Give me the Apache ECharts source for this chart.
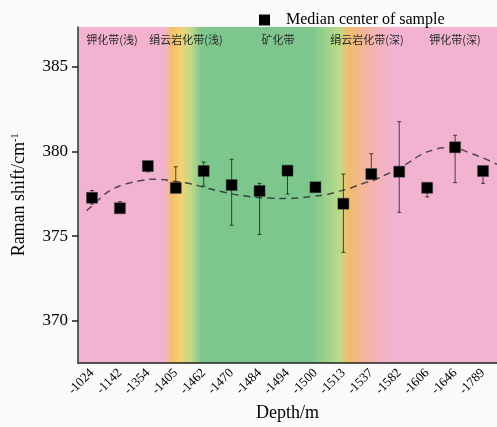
<!DOCTYPE html>
<html>
<head>
<meta charset="utf-8">
<script src="https://cdn.jsdelivr.net/npm/echarts@6/dist/echarts.min.js"></script>
<style>
  html, body { margin: 0; padding: 0; background: #fafafa; }
  #chart { width: 497px; height: 427px; }
</style>
</head>
<body>
<div id="chart"></div>
<script>
const depths = ['-1024', '-1142', '-1354', '-1405', '-1462', '-1470', '-1484', '-1494',
  '-1500', '-1513', '-1537', '-1582', '-1606', '-1646', '-1789'];
const median = [377.27, 376.65, 379.14, 377.85, 378.85, 378.02, 377.67, 378.87,
  377.89, 376.92, 378.67, 378.81, 377.86, 380.25, 378.85];
const errLow = [376.9, 376.5, 378.8, 377.6, 377.96, 375.65, 375.11, 377.49,
  377.8, 374.05, 378.4, 376.41, 377.32, 378.16, 378.12];
const errHigh = [377.7, 377.04, 379.3, 379.1, 379.38, 379.54, 378.12, 379.0,
  377.95, 378.67, 379.87, 381.76, 378.0, 380.96, 379.0];
// fitted trend (x in category index units)
const curveX = [-0.19, 0.11, 0.40, 0.64, 1.05, 1.35, 1.82, 2.12, 2.47, 2.94, 3.48, 4.01,
  4.61, 5.50, 6.49, 7.02, 7.44, 7.91, 8.37, 8.79, 9.27, 9.68, 10.10, 10.57, 11.0,
  11.39, 11.77, 12.23, 12.70, 13.12, 13.51, 14.0, 14.5];
const curveY = [376.50, 376.95, 377.40, 377.69, 378.00, 378.14, 378.30, 378.37, 378.35,
  378.25, 378.11, 377.89, 377.64, 377.37, 377.24, 377.23, 377.27, 377.36, 377.45, 377.63,
  377.85, 378.10, 378.32, 378.67, 379.0, 379.4, 379.8, 380.1, 380.22, 380.15, 379.93,
  379.62, 379.25];
const yTicks = [370, 375, 380, 385];
const zoneNames = ['钾化带(浅)', '绢云岩化带(浅)', '矿化带', '绢云岩化带(深)', '钾化带(深)'];

const serif = "'Liberation Serif', 'Times New Roman', serif";
const chart = echarts.init(document.getElementById('chart'));

const bg = new echarts.graphic.LinearGradient(0, 0, 1, 0, [
  { offset: 0, color: '#f2b3d1' },
  { offset: 0.205, color: '#f2b3d1' },
  { offset: 0.225, color: '#f5bf6a' },
  { offset: 0.245, color: '#f3d273' },
  { offset: 0.268, color: '#c3da88' },
  { offset: 0.295, color: '#7dc78e' },
  { offset: 0.56, color: '#7dc78e' },
  { offset: 0.625, color: '#bddb88' },
  { offset: 0.645, color: '#f2bc6c' },
  { offset: 0.70, color: '#f4b3ad' },
  { offset: 0.75, color: '#f2b3d1' },
  { offset: 1, color: '#f2b3d1' }
]);

const zoneX = [112, 186, 278, 367, 455];

chart.setOption({
  backgroundColor: '#fafafa',
  animation: false,
  legend: {
    data: ['Median center of sample'],
    left: 254,
    top: 7,
    itemWidth: 11,
    itemHeight: 11,
    icon: 'rect',
    itemStyle: { color: '#000', borderWidth: 0, opacity: 1 },
    textStyle: { fontFamily: serif, fontSize: 16, color: '#000', padding: [0, 0, 0, 11] }
  },
  grid: {
    left: 78, top: 27, width: 423, height: 336,
    show: true, borderWidth: 0, backgroundColor: bg
  },
  xAxis: [{
    type: 'category',
    data: depths,
    name: 'Depth/m',
    nameLocation: 'middle',
    nameGap: 33,
    nameTextStyle: { fontFamily: serif, fontSize: 18, color: '#000' },
    axisLine: { onZero: false, lineStyle: { color: '#222', width: 1.5 } },
    axisTick: { alignWithLabel: true, length: 5, lineStyle: { color: '#222', width: 1.2 } },
    axisLabel: { rotate: 45, fontFamily: serif, fontSize: 13, color: '#000', margin: 8 }
  }, {
    type: 'value', min: -0.5, max: 14.5, show: false
  }],
  yAxis: {
    type: 'value',
    min: 367.52,
    max: 387.35,
    name: '{a|Raman shift/cm}{b|-1}',
    nameLocation: 'middle',
    nameGap: 50,
    nameTextStyle: {
      fontFamily: serif, fontSize: 18, color: '#000',
      rich: {
        a: { fontFamily: serif, fontSize: 18, color: '#000' },
        b: { fontFamily: serif, fontSize: 10, color: '#000', verticalAlign: 'top', padding: [0, 0, 8, 0] }
      }
    },
    splitLine: { show: false },
    axisLine: { show: true, onZero: false, lineStyle: { color: '#333', width: 1.5 } },
    axisTick: { show: true, length: 6, customValues: yTicks, lineStyle: { color: '#222', width: 1.5 } },
    axisLabel: { fontFamily: serif, fontSize: 17, color: '#000', margin: 10, customValues: yTicks }
  },
  graphic: zoneNames.map((t, i) => ({
    type: 'text',
    x: zoneX[i],
    y: 40,
    style: {
      text: t, fontFamily: "'Noto Sans CJK SC', sans-serif", fontSize: 11,
      fill: '#2a2a2a', align: 'center', verticalAlign: 'middle'
    }
  })),
  series: [{
    name: 'trend',
    type: 'line',
    xAxisIndex: 1,
    data: curveX.map((x, i) => [x, curveY[i]]),
    smooth: true,
    symbol: 'none',
    lineStyle: { color: 'rgba(20,20,30,0.7)', width: 1.5, type: [7, 5] },
    z: 2
  }, {
    name: 'error',
    type: 'custom',
    data: depths.map((d, i) => [i, errLow[i], errHigh[i]]),
    renderItem: (params, api) => {
      const lo = api.coord([api.value(0), api.value(1)]);
      const hi = api.coord([api.value(0), api.value(2)]);
      const style = { stroke: 'rgba(20,20,20,0.75)', lineWidth: 1 };
      return {
        type: 'group',
        children: [
          { type: 'line', shape: { x1: lo[0], y1: lo[1], x2: hi[0], y2: hi[1] }, style },
          { type: 'line', shape: { x1: lo[0] - 2, y1: lo[1], x2: lo[0] + 2, y2: lo[1] }, style },
          { type: 'line', shape: { x1: hi[0] - 2, y1: hi[1], x2: hi[0] + 2, y2: hi[1] }, style }
        ]
      };
    },
    z: 3
  }, {
    name: 'Median center of sample',
    type: 'scatter',
    data: median,
    symbol: 'rect',
    symbolSize: 11,
    itemStyle: { color: '#000', opacity: 1, borderColor: '#444', borderWidth: 0.5 },
    z: 4
  }]
});
</script>
</body>
</html>
